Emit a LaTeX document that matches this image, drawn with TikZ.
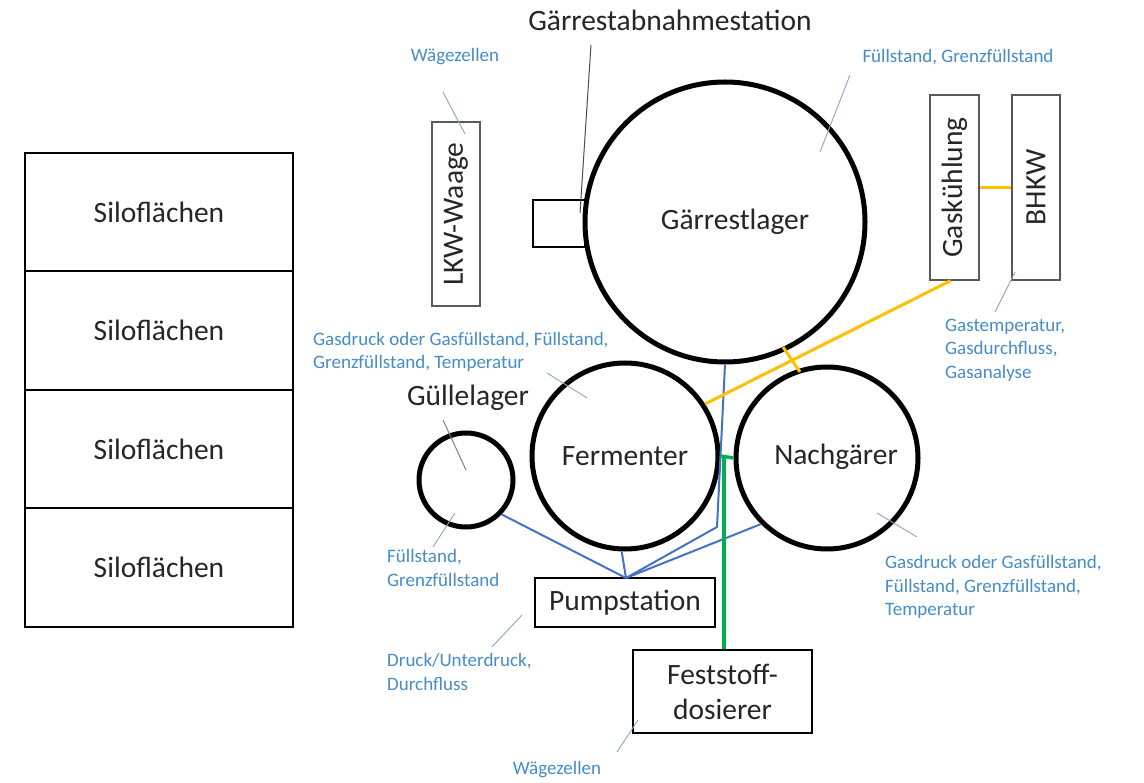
\documentclass[tikz,border=0pt]{standalone}
\usepackage{fontspec}
\setmainfont{Carlito}
\definecolor{lblue}{RGB}{70,140,200}
\definecolor{leadc}{RGB}{140,165,195}
\definecolor{pipeb}{RGB}{68,114,196}
\definecolor{gasy}{RGB}{255,192,0}
\definecolor{solg}{RGB}{0,176,80}
\begin{document}
\begin{tikzpicture}[x=1pt,y=-1pt,
  big/.style={font=\fontsize{29.5}{34}\selectfont, text=black!85},
  lbl/.style={font=\fontsize{19}{23.5}\selectfont, text=lblue, align=left, inner sep=0},
  tank/.style={circle, draw, line width=5pt, inner sep=0, big},
  box/.style={draw, line width=2pt, inner sep=0, big, align=center},
  thinbox/.style={draw=black!65, line width=1.5pt, inner sep=0, big},
  lead/.style={draw=leadc, line width=0.9pt},
  pipe/.style={draw=pipeb, line width=2pt},
  gas/.style={draw=gasy, line width=3pt},
  solid feed/.style={draw=solg, line width=3.5pt}]
\useasboundingbox (0,0) rectangle (1144,783);
\fill[white] (0,0) rectangle (1144,783);

% Siloflaechen
\node[box, minimum width=268, minimum height=118.5] (s1) at (159,212.25) {Siloflächen};
\node[box, minimum width=268, minimum height=118.5] (s2) at (159,330.75) {Siloflächen};
\node[box, minimum width=268, minimum height=118.5] (s3) at (159,449.25) {Siloflächen};
\node[box, minimum width=268, minimum height=118.5] (s4) at (159,567.75) {Siloflächen};

% LKW-Waage
\node[thinbox, minimum width=48, minimum height=184] (lkw) at (456,214) {};
\node[big, rotate=90] (lkwt) at (lkw.center) {LKW-Waage};

% Gaerrestabnahmestation
\node[box, minimum width=52, minimum height=47] (gab) at (559,223.5) {};
\node[big] (gabt) at (670,20) {Gärrestabnahmestation};

% tanks
\node[tank, minimum size=280] (gar) at (725,222) {};
\node[big] (gart) at (735,222) {Gärrestlager};
\node[tank, minimum size=186] (fer) at (625,456) {Fermenter};
\node[tank, minimum size=182] (nach) at (827,458) {};
\node[big] (nacht) at (836,457) {Nachgärer};
\node[tank, minimum size=94] (gul) at (466,480) {};
\node[big] (gult) at (468,398) {Güllelager};

% gas treatment
\node[thinbox, minimum width=49, minimum height=185] (gk) at (954.5,187.5) {};
\node[big, rotate=90] at (gk.center) {Gaskühlung};
\node[thinbox, minimum width=48, minimum height=185] (bhkw) at (1036,187.5) {};
\node[big, rotate=90] at (bhkw.center) {BHKW};

% pump and solids feeder
\node[box, minimum width=180, minimum height=49] (pump) at (625,602.5) {Pumpstation};
\node[box, minimum width=179, minimum height=83, font=\fontsize{29.5}{35}\selectfont] (fd) at (722.5,691.5) {Feststoff-\\dosierer};

% blue pipes
\coordinate (pj) at (626,578);
\coordinate (pk) at (717,527);
\draw[pipe] (gul.-44) -- (pj);
\draw[pipe] (fer.-92) -- (pj);
\draw[pipe] (pj) -- (pk) -- (gar.south);
\draw[pipe] (pj) -- (nach.-135);

% gas lines
\draw[gas] (gk.east) -- (bhkw.west);
\draw[gas] ([xshift=-4pt]gk.south) -- (fer.33);
\draw[gas] (783,347) -- (800,372);

% solids feed
\coordinate (gj) at (724,457);
\draw[solid feed] (fer.east) -- (nach.west);
\draw[solid feed] (gj) -- (gj |- fd.north);

% labels
\node[lbl] (l1) at (455,57) {Wägezellen};
\node[lbl] (l2) at (958,57) {Füllstand, Grenzfüllstand};
\node[lbl, anchor=west] (l3) at (945,350) {Gastemperatur,\\Gasdurchfluss,\\Gasanalyse};
\node[lbl, anchor=west] (l4) at (313,352) {Gasdruck oder Gasfüllstand, Füllstand,\\Grenzfüllstand, Temperatur};
\node[lbl, anchor=west] (l5) at (387,568) {Füllstand,\\Grenzfüllstand};
\node[lbl, anchor=west] (l6) at (885,587) {Gasdruck oder Gasfüllstand,\\Füllstand, Grenzfüllstand,\\Temperatur};
\node[lbl, anchor=west] (l7) at (387,672) {Druck/Unterdruck,\\Durchfluss};
\node[lbl] (l8) at (557,770) {Wägezellen};

% leader lines
\draw[lead] (443,92) -- (465,134);
\draw[draw=black!70, line width=1pt] (591,45) -- (580,213);
\draw[lead] (850,75) -- (820,152);
\draw[lead] (1015,272) -- (995,312);
\draw[lead] (547,373) -- (587,398);
\draw[draw=black!50, line width=1pt] (443,420) -- (466,470);
\draw[lead] (455,513) -- (433,547);
\draw[lead] (877,513) -- (917,537);
\draw[lead] (522,615) -- (492,647);
\draw[lead] (638,720) -- (617,752);
\end{tikzpicture}
\end{document}
